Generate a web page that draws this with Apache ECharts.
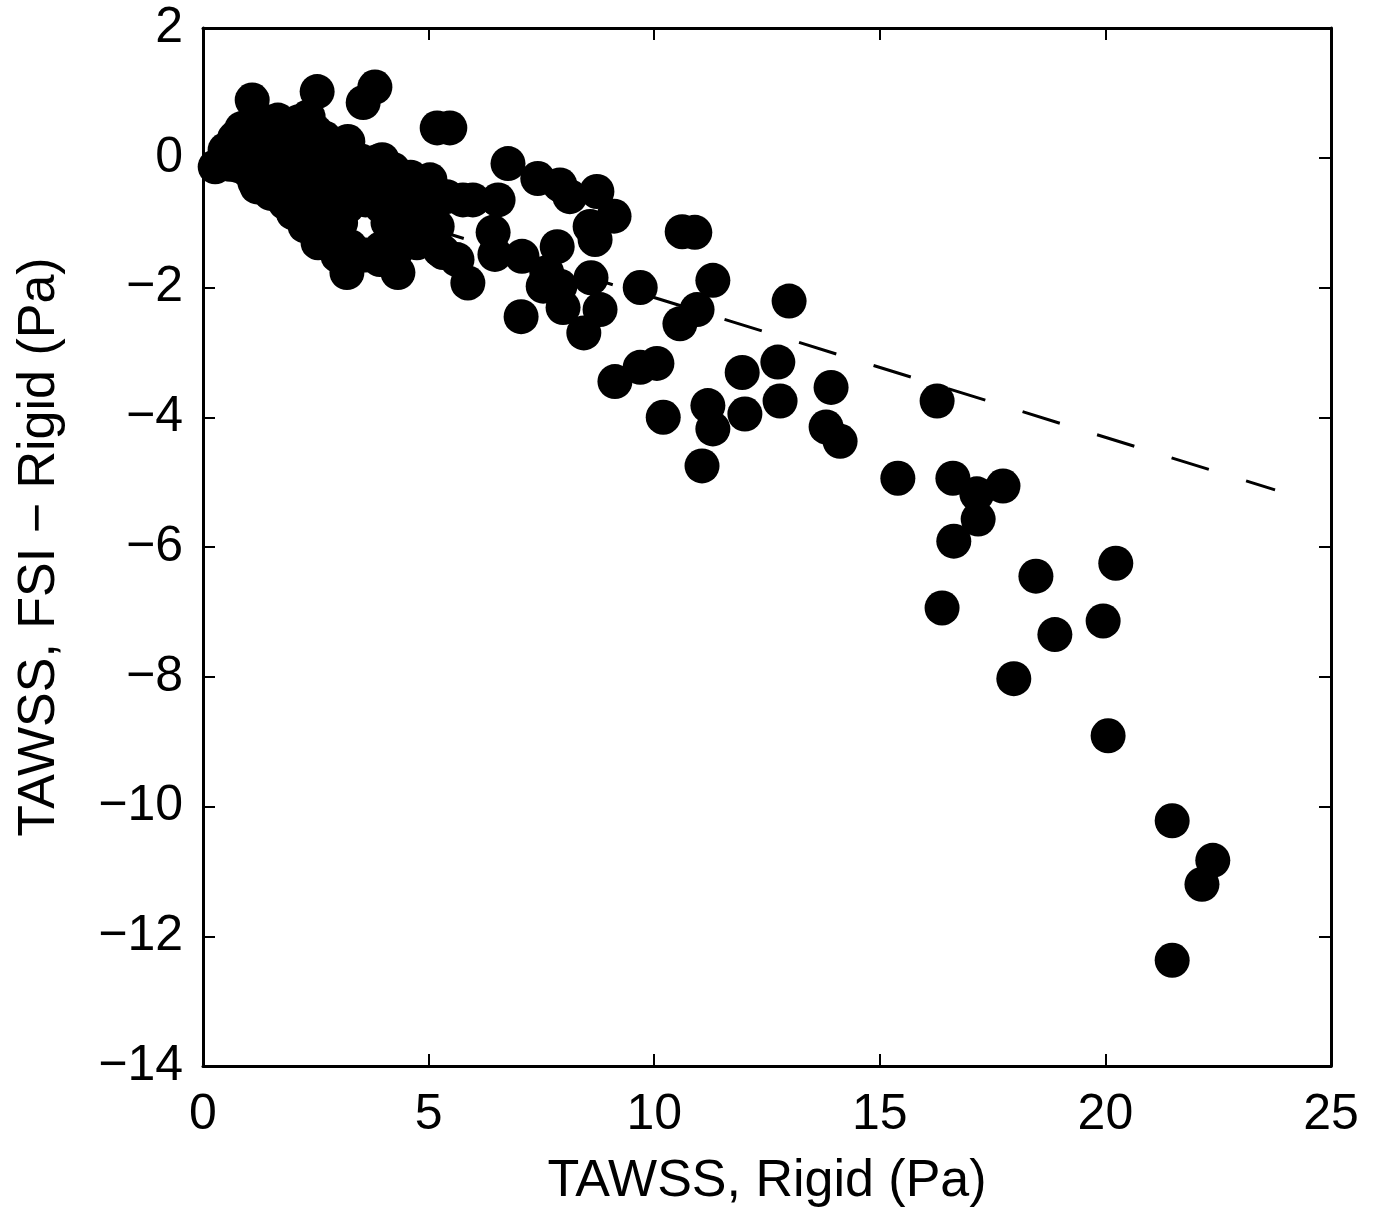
<!DOCTYPE html>
<html>
<head>
<meta charset="utf-8">
<script src="https://cdn.jsdelivr.net/npm/echarts@6/dist/echarts.min.js"></script>
<style>html,body{margin:0;padding:0;background:#fff;}#chart{width:1380px;height:1213px;}</style>
</head>
<body>
<div id="chart"></div>
<script>
// Dense cluster near the origin
const clusterX = [0.27,0.49,0.70,0.86,1.09,1.20,1.45,1.66,1.90,2.10,2.33,2.53,2.50,2.70,2.90,3.21,3.55,3.81,3.50,3.86,4.21,4.60,4.99,
  0.60,0.90,1.00,1.30,1.30,1.60,1.60,1.90,1.90,2.20,2.20,2.20,2.50,2.50,2.50,2.80,2.80,2.80,3.10,3.05,3.40,3.20,3.60,3.25,3.60,3.95,3.95,4.10,4.00,4.30,4.30,4.60,4.60,4.90,4.90,3.97,3.70,
  0.78,1.15,1.50,1.82,2.26,2.55,2.99,3.19,3.26,3.92,4.32,4.26,4.74,5.03,5.25,5.32,5.63,5.87,5.03,5.40,5.76,5.98,5.19,4.50,2.00,1.20];
const clusterY = [-0.14,0.12,0.30,0.45,0.89,0.50,0.55,0.58,0.50,0.55,0.63,1.02,0.40,0.30,0.10,0.25,0.85,1.09,-0.05,-0.06,-0.18,-0.30,-0.38,
  -0.10,0.10,-0.20,0.20,-0.20,0.20,-0.30,0.10,-0.40,0.10,-0.30,-0.70,0.00,-0.40,-0.90,-0.20,-0.60,-1.00,-0.30,-1.00,-0.40,-0.75,-0.65,-1.40,-1.50,-1.40,-0.75,-1.00,-0.45,-0.50,-0.90,-0.70,-1.00,-0.70,-1.00,-0.03,-0.35,
  -0.12,-0.38,-0.55,-0.69,-1.05,-1.31,-1.51,-1.77,-1.37,-1.57,-1.77,-1.46,-1.31,-0.34,-1.42,-1.46,-1.57,-1.93,-1.26,-0.60,-0.65,-0.65,-1.06,-1.20,-0.85,-0.45];
// Scattered points further out
const spreadX = [5.19,5.47,6.76,7.42,7.91,8.13,8.73,9.11,8.58,8.69,10.62,10.90,6.54,6.43,6.47,7.07,7.85,7.62,7.54,7.91,7.98,8.60,8.80,7.05,8.44,9.69,
  11.30,10.95,10.57,12.99,9.13,9.69,10.06,10.20,11.95,12.74,11.19,11.30,12.01,12.79,11.06,13.92,13.81,14.12,16.27,15.40,16.62,17.15,17.73,17.18,16.64,
  16.38,18.46,20.23,18.88,19.95,17.97,20.06,21.48,22.38,22.14,21.48];
const spreadY = [0.46,0.46,-0.09,-0.32,-0.42,-0.60,-0.52,-0.90,-1.06,-1.26,-1.14,-1.15,-0.65,-1.15,-1.49,-1.52,-1.37,-1.77,-1.98,-1.98,-2.31,-1.85,-2.34,-2.45,-2.70,-2.00,
  -1.89,-2.34,-2.56,-2.21,-3.45,-3.23,-3.17,-4.00,-3.31,-3.15,-3.82,-4.18,-3.95,-3.75,-4.75,-3.54,-4.15,-4.37,-3.75,-4.94,-4.94,-5.18,-5.06,-5.57,-5.91,
  -6.94,-6.45,-6.25,-7.35,-7.14,-8.03,-8.91,-10.22,-10.83,-11.20,-12.37];
// Dashed reference line
const lineX = [0, 23.76];
const lineY = [0, -5.12];
const xTicks = [0, 5, 10, 15, 20, 25];
const yTicks = [2, 0, -2, -4, -6, -8, -10, -12, -14];

const pts = [];
clusterX.forEach((x, i) => pts.push([x, clusterY[i]]));
spreadX.forEach((x, i) => pts.push([x, spreadY[i]]));
const lineData = lineX.map((x, i) => [x, lineY[i]]);

const FONT = 'Liberation Sans, Arial, sans-serif';
const fmt = v => String(v).replace('-', '\u2212');
const axisBase = {
  axisLine: {show: true, onZero: false, lineStyle: {color: '#000', width: 3}},
  axisTick: {show: true, inside: true, length: 12, lineStyle: {color: '#000', width: 2}},
  splitLine: {show: false}
};
const chart = echarts.init(document.getElementById('chart'), null, {renderer: 'canvas'});
chart.setOption({
  animation: false,
  backgroundColor: '#fff',
  grid: {left: 203, right: 49, top: 28, bottom: 145, containLabel: false},
  xAxis: [
    Object.assign({}, axisBase, {type: 'value', position: 'bottom', min: 0, max: 25, interval: 5,
      name: 'TAWSS, Rigid (Pa)', nameLocation: 'middle', nameGap: 90,
      nameTextStyle: {fontFamily: FONT, fontSize: 52, color: '#000'},
      axisLabel: {fontFamily: FONT, fontSize: 50, color: '#000', margin: 24, formatter: fmt}}),
    Object.assign({}, axisBase, {type: 'value', position: 'top', min: 0, max: 25, interval: 5,
      axisLabel: {show: false}})
  ],
  yAxis: [
    Object.assign({}, axisBase, {type: 'value', position: 'left', min: -14, max: 2, interval: 2,
      name: 'TAWSS, FSI \u2212 Rigid (Pa)', nameLocation: 'middle', nameGap: 137,
      nameTextStyle: {fontFamily: FONT, fontSize: 52, color: '#000'},
      axisLabel: {fontFamily: FONT, fontSize: 50, color: '#000', margin: 20, formatter: fmt}}),
    Object.assign({}, axisBase, {type: 'value', position: 'right', min: -14, max: 2, interval: 2,
      axisLabel: {show: false}})
  ],
  series: [
    {type: 'line', data: lineData, xAxisIndex: 0, yAxisIndex: 0, symbol: 'none', z: 1,
      lineStyle: {color: '#000', width: 3, type: [39, 39]}},
    {type: 'scatter', data: pts, xAxisIndex: 0, yAxisIndex: 0, symbol: 'circle', symbolSize: 35, z: 2,
      itemStyle: {color: '#000', opacity: 1}}
  ]
});
</script>
</body>
</html>
